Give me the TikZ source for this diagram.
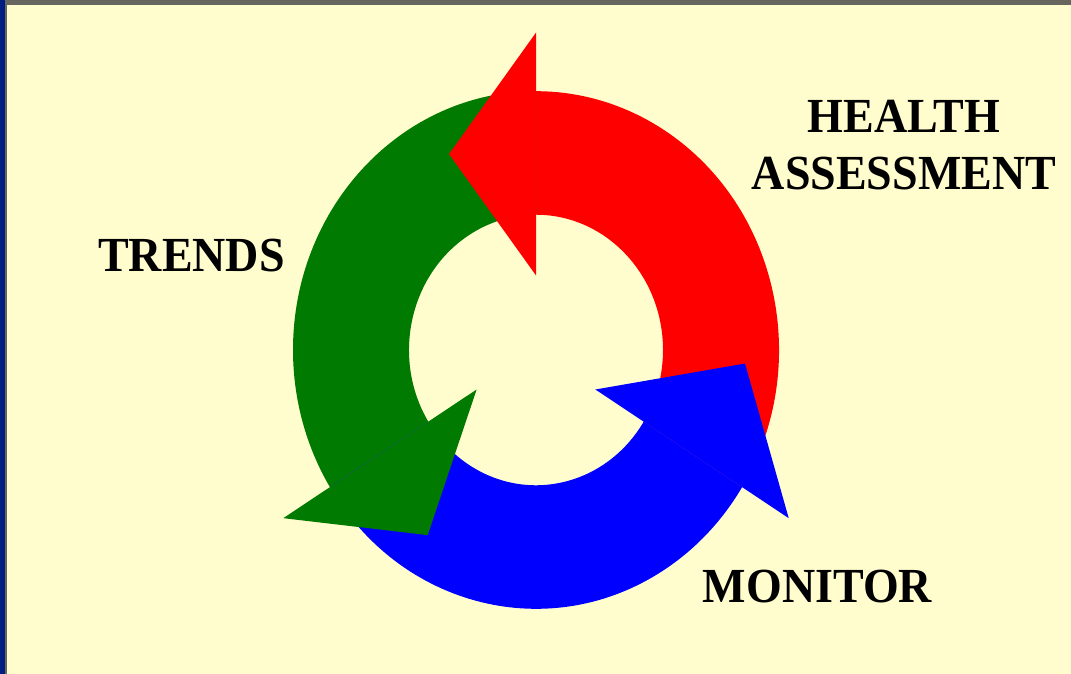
\documentclass[tikz,border=0pt]{standalone}
\usepackage{fontspec}
\setmainfont{Liberation Serif}
\definecolor{paper}{HTML}{FFFCCD}
\definecolor{edgegray}{HTML}{66665F}
\definecolor{edgeblue}{HTML}{001E82}
\definecolor{cycred}{HTML}{FF0000}
\definecolor{cycgreen}{HTML}{007A00}
\definecolor{cycblue}{HTML}{0000FF}

\begin{document}
\begin{tikzpicture}[x=1pt,y=1pt,
    steptext/.style={font=\fontsize{46}{54}\selectfont\bfseries, text=black,
        yscale=1.065, inner sep=0pt}]
        % frame and background
        \fill[paper] (0,0) rectangle (1071,674);
        \fill[edgegray] (0,669) rectangle (1071,674);
        \fill[edgegray] (5,0) rectangle (7,674);
        \fill[edgeblue] (0,0) rectangle (5,674);

        \begin{scope}[shift={(536,324)}, yscale=1.065]
        % arrow bodies
        \fill[cycred] (-32:243) arc[start angle=-32, end angle=90, radius=243]
            -- (90:127) arc[start angle=90, end angle=-32, radius=127] -- cycle;
        \fill[cycgreen] (90:243) arc[start angle=90, end angle=212, radius=243]
            -- (212:127) arc[start angle=212, end angle=90, radius=127] -- cycle;
        \fill[cycblue] (212:243) arc[start angle=212, end angle=328, radius=243]
            -- (328:127) arc[start angle=328, end angle=212, radius=127] -- cycle;
        % arrow heads
        \coordinate (redtip) at (115.3:203.5);
        \coordinate (greentip) at (238.07:204.8);
        \coordinate (bluetip) at (356.52:209.4);
        \fill[cycred] (90:298) -- (redtip) -- (90:70) -- cycle;
        \fill[cycgreen] (212:298) -- (greentip) -- (212:70) -- cycle;
        \fill[cycblue] (328:298) -- (bluetip) -- (328:70) -- cycle;
        \end{scope}

        \node[steptext, align=center] (health) at (904,529) {HEALTH\\ASSESSMENT};
        \node[steptext, anchor=base] (trends) at (191.5,402) {TRENDS};
        \node[steptext, anchor=base] (monitor) at (817.5,71) {MONITOR};
    \end{tikzpicture}
\end{document}
